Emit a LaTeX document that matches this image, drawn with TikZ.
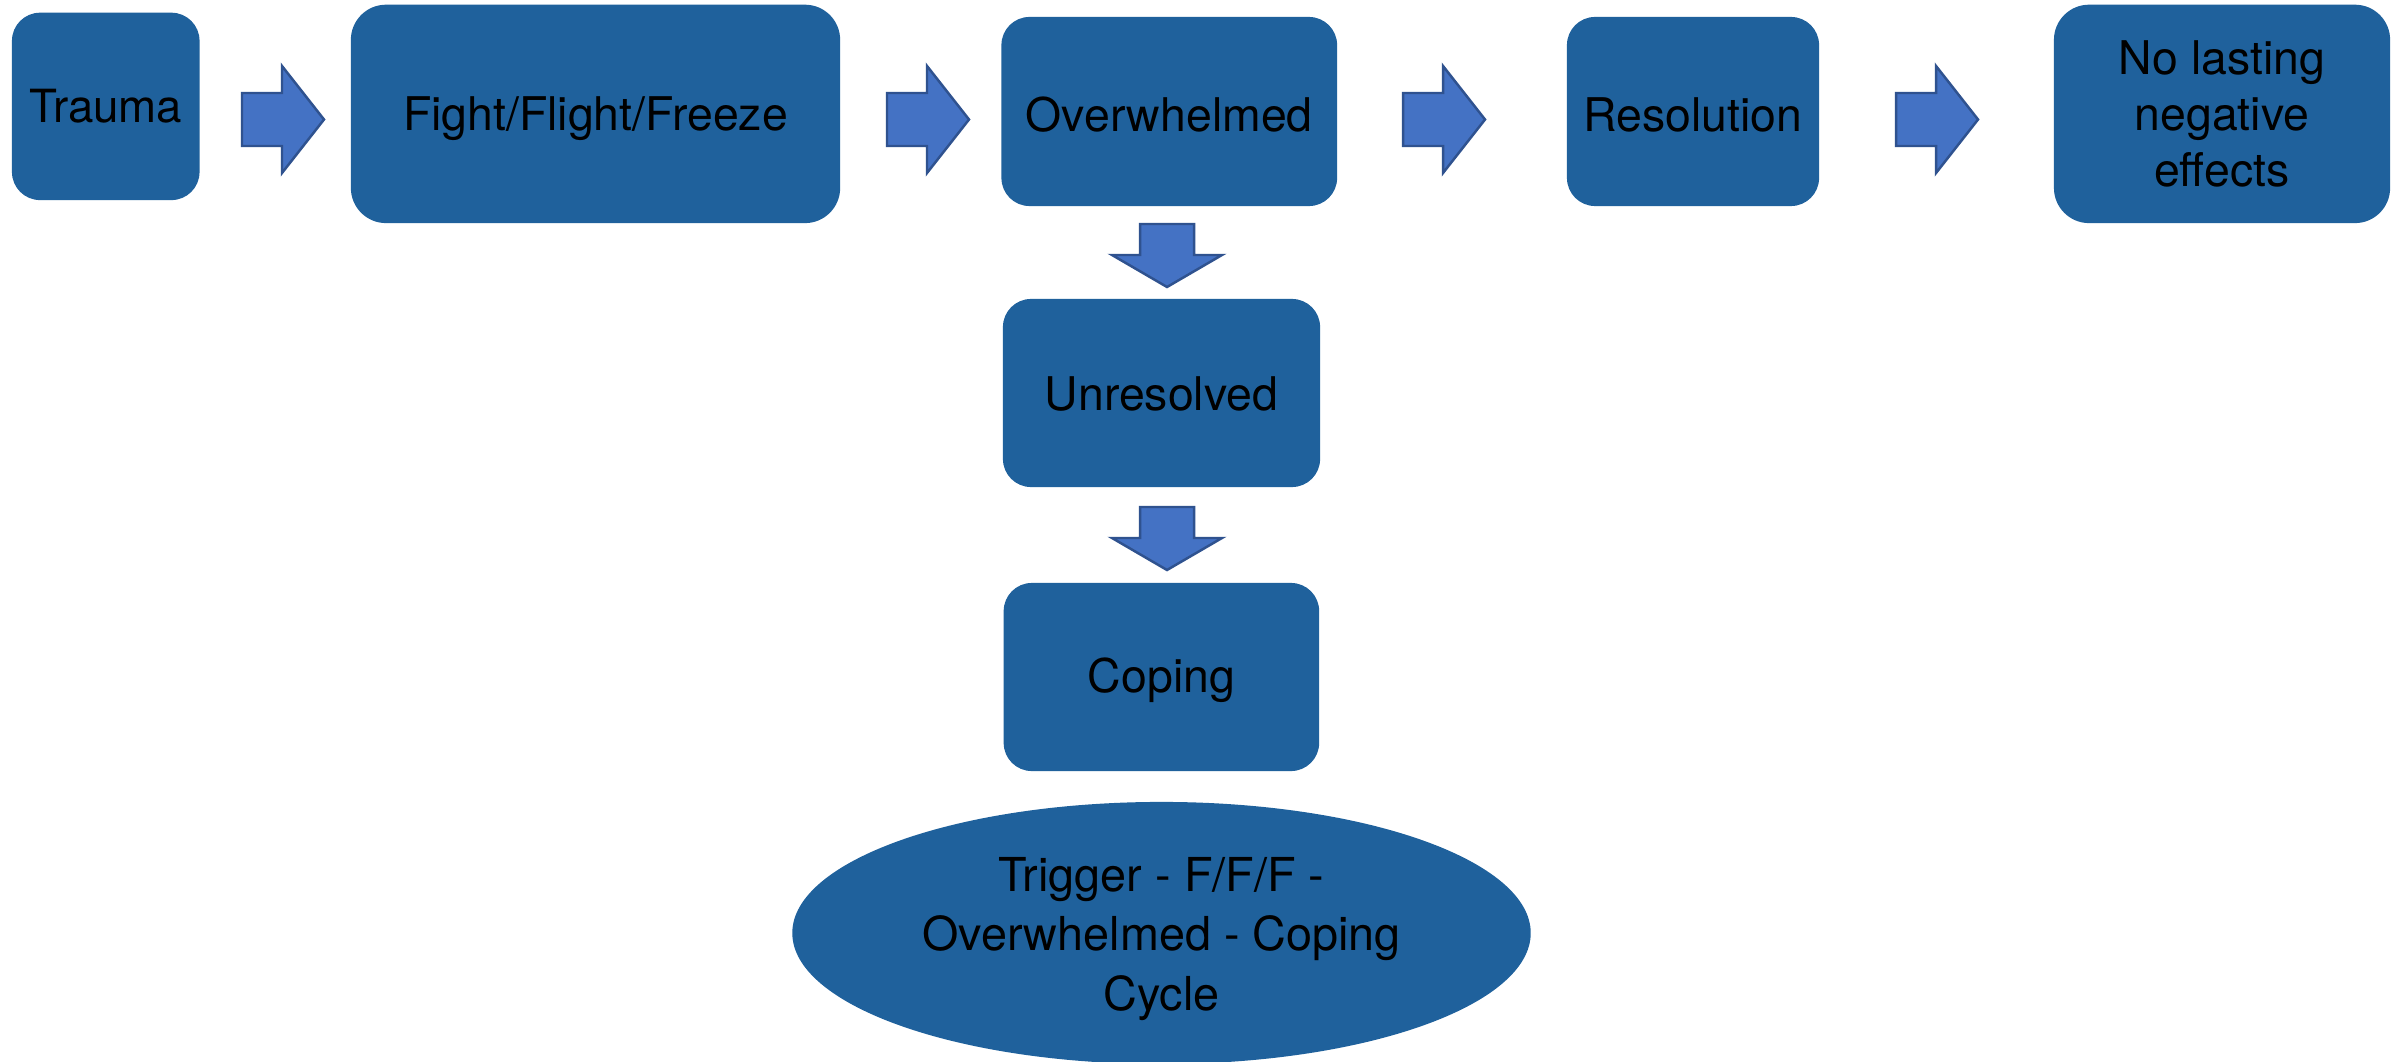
\documentclass[tikz,border=0pt]{standalone}
\usepackage{fontspec}
\setmainfont{TeX Gyre Heros}
\usetikzlibrary{shapes.geometric}
\definecolor{boxblue}{RGB}{31,97,156}
\definecolor{arrowfill}{HTML}{4472C4}
\definecolor{arrowline}{HTML}{2F528F}
\newcommand{\lowerby}[2]{\raisebox{-#1}[\height][\depth]{#2}}
\tikzset{
  box/.style={rectangle, rounded corners=8pt, fill=boxblue, draw=none, inner sep=0pt,
    align=center, text=black, font=\fontsize{13.2}{16}\selectfont},
  barrow/.style={fill=arrowfill, draw=arrowline, line width=0.7pt, line join=miter},
  rarrow/.pic={\draw[barrow] (0,-26.5) -- (40,-26.5) -- (40,-53.5) -- (82,0) -- (40,53.5) -- (40,26.5) -- (0,26.5) -- cycle;},
  darrow/.pic={\draw[barrow] (-27,0) -- (27,0) -- (27,31) -- (55,31) -- (0,63) -- (-55,31) -- (-27,31) -- cycle;}
}
\begin{document}
\begin{tikzpicture}[x=0.01cm,y=-0.01cm]
\fill[white] (0,0) rectangle (2404,1061);
\useasboundingbox (0,0) rectangle (2404,1061);

\node[box, minimum width=1.875cm, minimum height=1.873cm, font=\fontsize{13}{15}\selectfont] (trauma) at (105.75,106.4) {Trauma};
\node[box, rounded corners=10pt, minimum width=4.89cm, minimum height=2.183cm] (fight) at (595.5,113.9) {\lowerby{1.4pt}{Fight/Flight/Freeze}};
\node[box, minimum width=3.355cm, minimum height=1.89cm] (over) at (1169.25,111.5) {\lowerby{0.9pt}{Overwhelmed}};
\node[box, minimum width=2.52cm, minimum height=1.89cm] (resol) at (1693,111.5) {\lowerby{0.9pt}{Resolution}};
\node[box, rounded corners=10pt, minimum width=3.36cm, minimum height=2.183cm, font=\fontsize{13.2}{16}\selectfont] (nolast) at (2222,113.9) {No lasting\\negative\\effects};
\node[box, minimum width=3.17cm, minimum height=1.88cm] (unres) at (1161.5,393) {\lowerby{0.4pt}{Unresolved}};
\node[box, minimum width=3.153cm, minimum height=1.88cm] (coping) at (1161.4,677) {\lowerby{0.8pt}{Coping}};
\node[ellipse, fill=boxblue, inner sep=0pt, minimum width=7.38cm, minimum height=2.62cm,
  align=center, text=black, font=\fontsize{13.3}{17}\selectfont] (cycle) at (1161.5,933)
  {\lowerby{1.7pt}{\begin{tabular}{@{}c@{}}Trigger - F/F/F -\\Overwhelmed - Coping\\Cycle\end{tabular}}};

\coordinate (a1) at (242,119.5);
\coordinate (a2) at (887,119.5);
\coordinate (a3) at (1403,119.5);
\coordinate (a4) at (1896,119.5);
\coordinate (d1) at (1167,224);
\coordinate (d2) at (1167,507);
\pic at (a1) {rarrow};
\pic at (a2) {rarrow};
\pic at (a3) {rarrow};
\pic at (a4) {rarrow};
\pic at (d1) {darrow};
\pic at (d2) {darrow};
\end{tikzpicture}
\end{document}
